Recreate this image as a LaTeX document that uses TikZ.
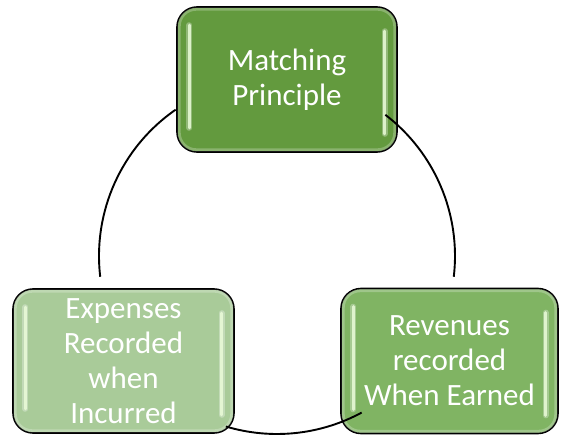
\documentclass[tikz,border=0pt]{standalone}
\usepackage{fontspec}
\setmainfont{Carlito}
\usetikzlibrary{calc}
\definecolor{darkleaf}{HTML}{639A3E}
\definecolor{midleaf}{HTML}{80B463}
\definecolor{paleleaf}{HTML}{A9CB99}
\definecolor{glint}{HTML}{EAFBD8}
\tikzset{
  stage/.style={draw=black, line width=1.6pt, rounded corners=20pt, text=white,
    align=center, inner sep=0pt, font=\fontsize{31}{35}\selectfont},
  gloss/.style={glint, opacity=0.85, line width=3pt, line cap=round},
  cycle arc/.style={line width=1.9pt, black}
}
\begin{document}
\begin{tikzpicture}[x=1pt,y=-1pt]
  \useasboundingbox (0,0) rectangle (563,436);
  \coordinate (c) at (277,256);
  \node[stage, fill=darkleaf, minimum width=220pt, minimum height=145pt] (match) at (287,79.5) {Matching\\Principle};
  \node[stage, fill=paleleaf, minimum width=221pt, minimum height=144pt] (expense) at (123.5,361) {Expenses\\Recorded\\when\\Incurred};
  \node[stage, fill=midleaf, minimum width=217pt, minimum height=145pt] (revenue) at (449.5,361) {Revenues\\recorded\\When Earned};
  % glossy highlights
  \foreach \b in {match,expense,revenue}{
    \draw[white, opacity=0.25, line width=3pt, rounded corners=17pt]
      ([xshift=3pt,yshift=-3pt]\b.north west) rectangle ([xshift=-3pt,yshift=3pt]\b.south east);
    \draw[white, opacity=0.3, line width=6pt, line cap=round] ([xshift=13pt,yshift=-19pt]\b.north west) -- ([xshift=13pt,yshift=25pt]\b.south west);
    \draw[white, opacity=0.3, line width=6pt, line cap=round] ([xshift=-13pt,yshift=-25pt]\b.north east) -- ([xshift=-13pt,yshift=19pt]\b.south east);
    \draw[gloss] ([xshift=13pt,yshift=-19pt]\b.north west) -- ([xshift=13pt,yshift=25pt]\b.south west);
    \draw[gloss] ([xshift=-13pt,yshift=-25pt]\b.north east) -- ([xshift=-13pt,yshift=19pt]\b.south east);
  }
  % arcs of the cycle
  \coordinate (a1) at ($(c)+(235.3:178)$);
  \coordinate (a2) at ($(c)+(-52.5:178)$);
  \coordinate (a3) at ($(c)+(106.7:178)$);
  \draw[cycle arc] (a1) arc[start angle=235.3, end angle=173.3, radius=178];
  \draw[cycle arc] (a2) arc[start angle=-52.5, end angle=6.7, radius=178];
  \draw[cycle arc] (a3) arc[start angle=106.7, end angle=61.6, radius=178];
\end{tikzpicture}
\end{document}
